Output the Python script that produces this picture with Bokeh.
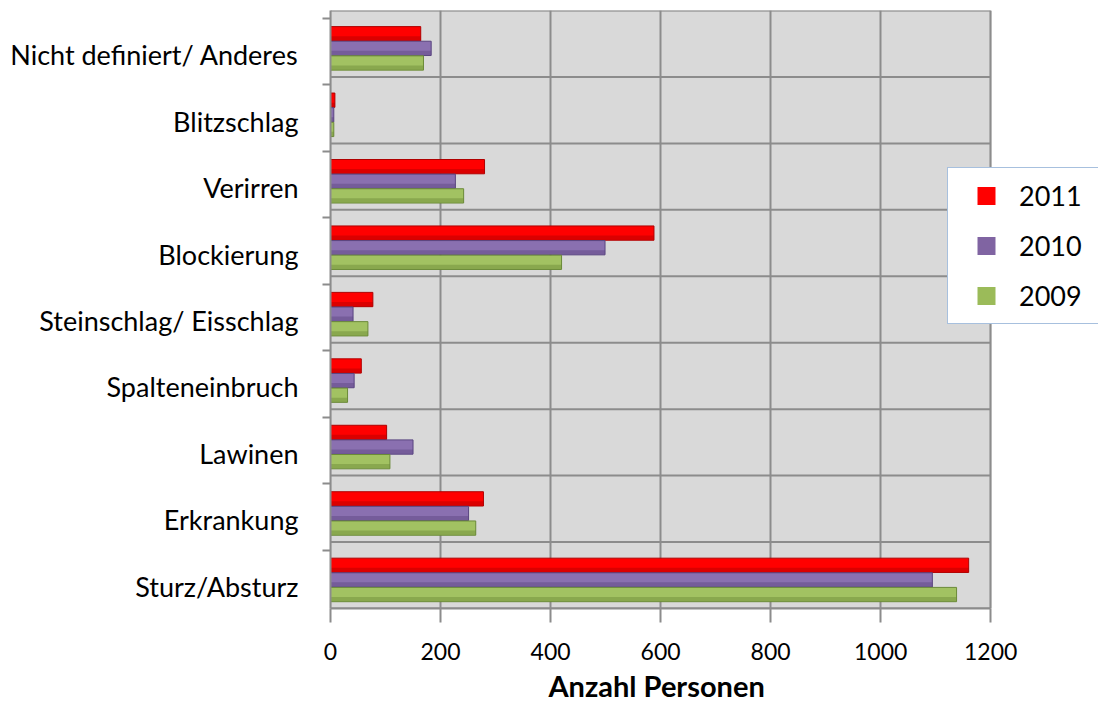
from bokeh.plotting import figure
from bokeh.models import Range1d, FixedTicker, Legend, LegendItem, ColumnDataSource, BoxAnnotation, Title
from bokeh.embed import file_html
from bokeh.resources import INLINE

# categories bottom -> top
categories = ["Sturz/Absturz", "Erkrankung", "Lawinen", "Spalteneinbruch",
              "Steinschlag/ Eisschlag", "Blockierung", "Verirren", "Blitzschlag",
              "Nicht definiert/ Anderes"]
v2011 = [1160, 278, 102, 56, 77, 588, 280, 8, 164]
v2010 = [1094, 251, 150, 43, 41, 499, 227, 6, 183]
v2009 = [1138, 264, 108, 31, 68, 420, 242, 6, 169]
years = ["2011", "2010", "2009"]
x_ticks = [0, 200, 400, 600, 800, 1000, 1200]
x_max = 1200
x_title = "Anzahl Personen"

FONT = "Lato"
fills = ["#ff0000", "#8a70b0", "#a2c262"]
lines = ["#b00000", "#5a4580", "#6b8a38"]
legend_fills = ["#ff0000", "#8064a2", "#9bbb59"]
offsets = [0.35, 0.57, 0.79]   # distance of bar centre below the top of each category cell
bar_h = 0.215
grid_col = "#8c8c8c"

p = figure(width=1098, height=705, output_backend="svg", toolbar_location=None,
           x_range=Range1d(0, 1396), y_range=Range1d(0, len(categories)),
           min_border_left=330, min_border_right=0, min_border_top=10,
           min_border_bottom=97)
p.background_fill_color = "white"
p.border_fill_color = "white"
p.outline_line_color = None

# back wall
wall = BoxAnnotation(left=0, right=x_max, bottom=0, top=len(categories),
                     fill_color="#d9d9d9", fill_alpha=1,
                     line_color=grid_col, line_width=2, level="image")
p.add_layout(wall)

# horizontal category separators on the wall
bounds_y = list(range(len(categories) + 1))
p.segment(x0=[0] * len(bounds_y), x1=[x_max] * len(bounds_y), y0=bounds_y, y1=bounds_y,
          line_color=grid_col, line_width=2)

for k, vals in enumerate([v2011, v2010, v2009]):
    ys = [i + 1 - offsets[k] for i in range(len(categories))]
    src = ColumnDataSource(dict(y=ys, right=vals))
    p.hbar(y="y", left=0, right="right", height=bar_h, source=src,
           fill_color=fills[k], line_color=lines[k], line_width=1)
    # darker lower edge for cylinder look
    src2 = ColumnDataSource(dict(y=[y - bar_h * 0.32 for y in ys], right=vals))
    p.hbar(y="y", left=0, right="right", height=bar_h * 0.3, source=src2,
           fill_color=lines[k], fill_alpha=0.45, line_color=None)

# legend proxies (square markers, not visible in the plot)
proxies = [p.scatter(x=[0], y=[-10], marker="square", size=18,
                     fill_color=legend_fills[k], line_color=None) for k in range(3)]

legend = Legend(items=[LegendItem(label=years[k], renderers=[proxies[k]]) for k in range(3)],
                location=(617, 284))
legend.glyph_width = 66
legend.glyph_height = 45
legend.label_height = 45
legend.spacing = 5
legend.padding = 5
legend.margin = 0
legend.label_standoff = 0
legend.label_width = 120
legend.label_text_font = FONT
legend.label_text_font_size = "27px"
legend.label_text_color = "black"
legend.border_line_color = "#4f81bd"
legend.border_line_width = 1.5
legend.background_fill_color = "white"
legend.background_fill_alpha = 1
p.add_layout(legend, "center")

# grids
p.xgrid.ticker = FixedTicker(ticks=x_ticks)
p.xgrid.grid_line_color = grid_col
p.xgrid.grid_line_width = 2
p.ygrid.grid_line_color = None

# x axis
p.xaxis.ticker = FixedTicker(ticks=x_ticks)
p.xaxis.bounds = (0, x_max)
p.xaxis.axis_line_color = grid_col
p.xaxis.axis_line_width = 2
p.xaxis.major_tick_line_color = grid_col
p.xaxis.major_tick_line_width = 2
p.xaxis.major_tick_out = 14
p.xaxis.major_tick_in = 0
p.xaxis.minor_tick_line_color = None
p.xaxis.major_label_standoff = 20
p.xaxis.major_label_text_font = FONT
p.xaxis.major_label_text_font_size = "23px"
p.xaxis.major_label_text_color = "black"

# x axis title, centred under the value scale
t = Title(text=x_title, align="left", offset=218, standoff=6,
          text_font=FONT, text_font_style="bold", text_font_size="29px",
          text_color="black")
p.add_layout(t, "below")

# y axis: labels slightly below cell centres, ticks at (front) boundaries
label_pos = [i + 0.5 - 0.165 for i in range(len(categories))]
boundary_pos = [i - 0.12 for i in range(1, len(categories) + 1)]
p.yaxis.ticker = FixedTicker(ticks=label_pos, minor_ticks=boundary_pos)
p.yaxis.major_label_overrides = {lp: c for lp, c in zip(label_pos, categories)}
p.yaxis.axis_line_color = grid_col
p.yaxis.axis_line_width = 2
p.yaxis.major_tick_out = 0
p.yaxis.major_tick_in = 0
p.yaxis.minor_tick_out = 8
p.yaxis.minor_tick_in = 0
p.yaxis.minor_tick_line_color = grid_col
p.yaxis.minor_tick_line_width = 2
p.yaxis.major_label_standoff = 24
p.yaxis.major_label_text_font = FONT
p.yaxis.major_label_text_font_size = "27px"
p.yaxis.major_label_text_color = "black"

open("out.html", "w").write(file_html(p, INLINE))
